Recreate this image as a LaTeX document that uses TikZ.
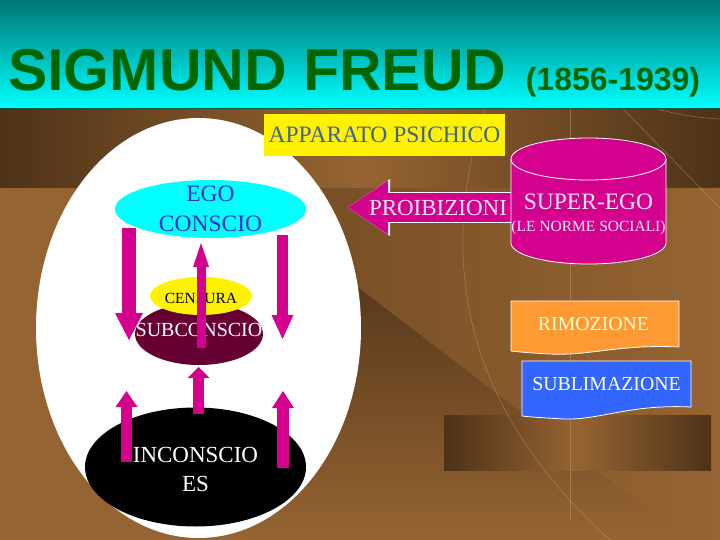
\documentclass[tikz,border=0pt]{standalone}
\usepackage{fontspec}
\setmainfont{Liberation Serif}
\newfontfamily\titlefont{Liberation Sans}
\usepackage{tikz}
\usetikzlibrary{arrows.meta,positioning,shapes.geometric,calc}
\usepackage{xcolor}
\definecolor{freudGreen}{HTML}{006600}
\definecolor{bandTop}{RGB}{0,118,118}
\definecolor{bandBot}{RGB}{0,255,255}
\definecolor{bandLine}{RGB}{0,80,60}
\definecolor{brownMid}{RGB}{150,100,50}
\definecolor{brownMed}{RGB}{118,78,37}
\definecolor{brownDark}{RGB}{78,50,24}
\definecolor{lineTan}{RGB}{205,165,115}
\definecolor{psyMagenta}{RGB}{212,0,142}
\definecolor{egoCyan}{RGB}{0,255,255}
\definecolor{egoBlue}{RGB}{45,45,205}
\definecolor{appText}{RGB}{65,100,140}
\definecolor{subMaroon}{RGB}{102,0,51}
\definecolor{remOrange}{RGB}{255,153,51}
\definecolor{subBlue}{RGB}{51,102,255}
\definecolor{creamText}{RGB}{255,255,210}
\definecolor{pinkText}{RGB}{255,232,255}

\tikzset{
  psyell/.style={ellipse, inner sep=0pt},
  lbl/.style={inner sep=0pt, anchor=base},
  psyarrow/.style n args={3}{draw=psyMagenta, line width=#1,
    -{Triangle[width=#2, length=#3, line width=0pt]}},
  faint/.style={draw=lineTan, line width=0.6pt, opacity=0.45},
  darkedges/.style={left color=brownDark, right color=brownDark, middle color=brownMid},
}

\begin{document}
\begin{tikzpicture}[x=1pt,y=-1pt]
  \useasboundingbox (0,0) rectangle (720,540);

  % background
  \fill[brownMid] (0,108) rectangle (720,540);
  \shade[darkedges] (0,108) rectangle (720,188);
  \shade[left color=brownMed, right color=brownMid] (300,188) -- (720,188) -- (720,540) -- (688,540) -- (300,243) -- cycle;
  \shade[top color=brownDark, bottom color=brownMid] (300,243) -- (688,540) -- (250,540) -- (250,243) -- cycle;
  \shade[darkedges] (444,415) rectangle (711,470);
  \draw[faint] (570,108) -- (570,520);
  \draw[faint] (485,108) .. controls (440,250) and (455,400) .. (610,540);
  \draw[faint] (623,109) -- (720,208);
  \draw[faint] (657,109) .. controls (680,115) and (700,118) .. (720,119);

  % title band
  \shade[top color=bandTop, bottom color=bandBot] (0,0) rectangle (720,108);
  \draw[bandLine, line width=1.2pt] (0,108.6) -- (720,108.6);
  \node[lbl, anchor=base west, text=freudGreen, font=\titlefont\bfseries\fontsize{59}{60}\selectfont] (title) at (8,91) {SIGMUND FREUD};
  \node[lbl, anchor=base west, text=freudGreen, font=\titlefont\bfseries\fontsize{32}{34}\selectfont] (years) at ([xshift=19pt]title.base east) {(1856-1939)};

  % psychic apparatus
  \fill[white] (198.5,328) ellipse [x radius=162.5, y radius=210];
  \node[fill=yellow, text=appText, minimum width=241pt, minimum height=42pt, inner sep=0pt,
        font=\fontsize{23.5}{28}\selectfont] (apparato) at (384.5,135) {APPARATO PSICHICO};

  \node[psyell, fill=egoCyan, minimum width=191pt, minimum height=58pt] (ego) at (210.5,209) {};
  \node[psyell, fill=subMaroon, minimum width=128pt, minimum height=62pt] (subc) at (199,334) {};
  \node[psyell, fill=yellow, minimum width=102pt, minimum height=38pt] (cens) at (201,296) {};
  \node[psyell, fill=black, minimum width=221pt, minimum height=119pt] (incs) at (195.5,467) {};

  \node[inner sep=0pt, align=center, text=egoBlue, font=\fontsize{23.5}{30}\selectfont] (egolabel) at (ego) {EGO\\CONSCIO};
  \node[lbl, yshift=-7pt, font=\fontsize{15.5}{18}\selectfont] (censlabel) at (cens) {CENSURA};
  \node[lbl, yshift=-2pt, text=white, font=\fontsize{20}{24}\selectfont] (subclabel) at (subc) {SUBCONSCIO};
  \node[inner sep=0pt, align=center, yshift=-2pt, text=white, font=\fontsize{23}{29}\selectfont] (incslabel) at (incs) {INCONSCIO\\ES};

  % arrows between the levels
  \coordinate (egoLeft) at (129,228);
  \coordinate (subcLeft) at (129,340);
  \coordinate (egoRight) at (282.5,235);
  \coordinate (subcRight) at (282.5,339);
  \coordinate (subcUp) at (201,348);
  \coordinate (egoDown) at (201,243);
  \coordinate (incsTop) at (198.5,414);
  \coordinate (subcDown) at (198.5,367);
  \coordinate (incsLeft) at (126.5,462);
  \coordinate (incsLeftTip) at (126.5,391);
  \coordinate (incsRight) at (283,468);
  \coordinate (incsRightTip) at (283,391);
  \draw[psyarrow={14pt}{28pt}{27pt}] (egoLeft) -- (subcLeft);
  \draw[psyarrow={11pt}{22pt}{24pt}] (egoRight) -- (subcRight);
  \draw[psyarrow={9pt}{16pt}{24pt}] (subcUp) -- (egoDown);
  \draw[psyarrow={11pt}{22pt}{11pt}] (incsTop) -- (subcDown);
  \draw[psyarrow={11pt}{22pt}{16pt}] (incsLeft) -- (incsLeftTip);
  \draw[psyarrow={12pt}{22pt}{17pt}] (incsRight) -- (incsRightTip);

  % super-ego and prohibitions
  \coordinate (superWest) at (512,207.5);
  \coordinate (proibTip) at (348,207.5);
  \draw[psyarrow={29pt}{54pt}{40pt},
        preaction={draw=white, line width=31pt, -{Triangle[width=57pt, length=42pt, line width=0pt]}}]
        (superWest) -- (proibTip);
  \node[lbl, text=pinkText, font=\fontsize{23}{28}\selectfont] (proib) at (438,215) {PROIBIZIONI};

  \fill[psyMagenta] (511,159) -- (511,243) arc[start angle=180, end angle=0, x radius=77.5, y radius=21] -- (666,159) -- cycle;
  \draw[white, line width=0.8pt] (511,159) -- (511,243) arc[start angle=180, end angle=0, x radius=77.5, y radius=21] -- (666,159);
  \filldraw[fill=psyMagenta, draw=white, line width=0.8pt] (588.5,159) ellipse [x radius=77.5, y radius=21];
  \node[lbl, text=pinkText, font=\fontsize{23.5}{28}\selectfont] (super) at (588.5,210) {SUPER-EGO};
  \node[lbl, text=pinkText, font=\fontsize{15.5}{18}\selectfont] (norme) at (588.5,232) {(LE NORME SOCIALI)};

  % defence mechanisms
  \filldraw[fill=remOrange, draw=white, line width=0.8pt] (511,301) -- (679,301) -- (679,347)
     .. controls (620,344) and (590,356) .. (550,354) .. controls (530,353) and (520,352) .. (511,351) -- cycle;
  \node[lbl, text=creamText, font=\fontsize{19.8}{24}\selectfont] (rimoz) at (593.5,330) {RIMOZIONE};
  \filldraw[fill=subBlue, draw=white, line width=0.8pt] (522,361) -- (691,361) -- (691,407)
     .. controls (630,404) and (600,420) .. (565,419) .. controls (545,418) and (530,417) .. (522,416) -- cycle;
  \node[lbl, text=white, font=\fontsize{19.8}{24}\selectfont] (sublim) at (606.5,390) {SUBLIMAZIONE};
\end{tikzpicture}
\end{document}
